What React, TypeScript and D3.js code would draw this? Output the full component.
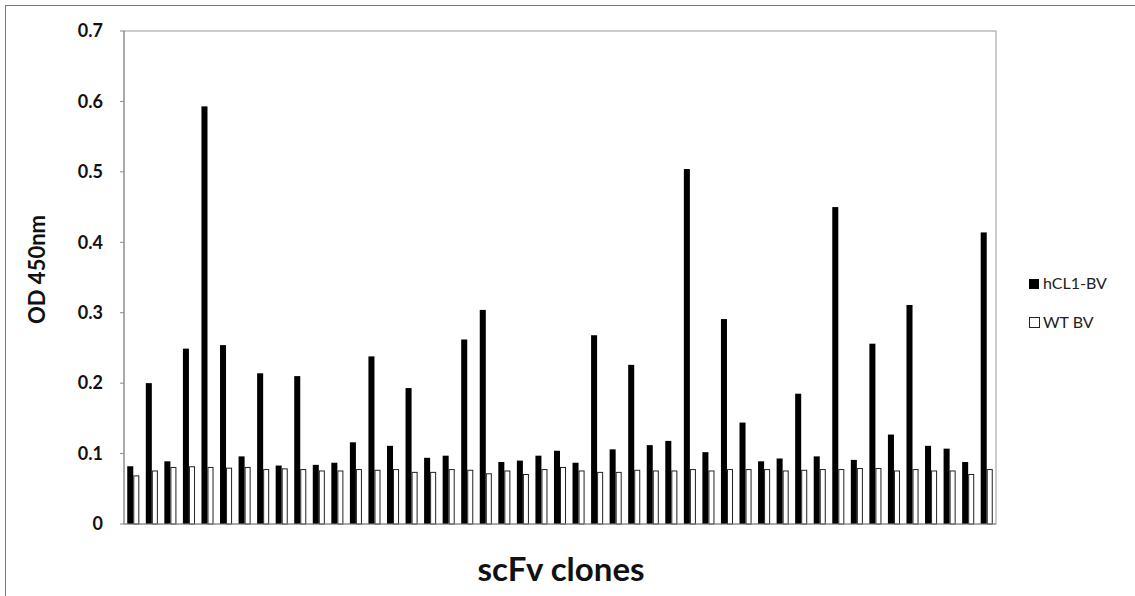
import React from "react";
import * as d3 from "d3";

const hcl1Values = [
  0.082, 0.200, 0.089, 0.249, 0.593, 0.254, 0.096, 0.214, 0.083, 0.210,
  0.084, 0.087, 0.116, 0.238, 0.111, 0.193, 0.094, 0.097, 0.262, 0.304,
  0.088, 0.090, 0.097, 0.104, 0.087, 0.268, 0.106, 0.226, 0.112, 0.118,
  0.504, 0.102, 0.291, 0.144, 0.089, 0.093, 0.185, 0.096, 0.450, 0.091,
  0.256, 0.127, 0.311, 0.111, 0.107, 0.088, 0.414,
];
const wtValues = [
  0.069, 0.076, 0.081, 0.082, 0.081, 0.080, 0.081, 0.078, 0.079, 0.078,
  0.076, 0.076, 0.078, 0.077, 0.078, 0.074, 0.074, 0.078, 0.077, 0.072,
  0.076, 0.071, 0.078, 0.081, 0.076, 0.074, 0.074, 0.077, 0.076, 0.076,
  0.078, 0.076, 0.078, 0.078, 0.078, 0.076, 0.077, 0.078, 0.078, 0.0795,
  0.0795, 0.076, 0.078, 0.076, 0.076, 0.071, 0.078,
];
const clones = hcl1Values.map((_, i) => `clone ${i + 1}`);
const seriesNames = ["hCL1-BV", "WT BV"];
const yTicks = [0, 0.1, 0.2, 0.3, 0.4, 0.5, 0.6, 0.7];

const W = 1135;
const H = 596;
const left = 124;
const right = 996;
const top = 31;
const bottom = 524;
const font = "Lato, 'Open Sans', sans-serif";

export default function App() {
  const x = d3.scaleBand<string>().domain(clones).range([left, right]).paddingInner(0.35).paddingOuter(0.175);
  const inner = d3.scaleBand<number>().domain([0, 1]).range([0, x.bandwidth()]);
  const y = d3.scaleLinear().domain([0, 0.7]).range([bottom, top]);
  const fmt = (v: number) => (v === 0 ? "0" : d3.format(".1f")(v));

  return (
    <svg width={W} height={H} style={{ position: "absolute", left: 0, top: 0, background: "#fff" }}>
      {/* outer chart frame */}
      <rect x={5.5} y={5.5} width={W + 20} height={H + 20} fill="none" stroke="#777" strokeWidth={1} />
      {/* plot border */}
      <rect x={left} y={top} width={right - left} height={bottom - top} fill="none" stroke="#999" strokeWidth={1} />
      {/* y axis */}
      <line x1={left} x2={left} y1={top} y2={bottom} stroke="#888" />
      {yTicks.map((t) => (
        <g key={t}>
          <line x1={left - 4} x2={left} y1={y(t)} y2={y(t)} stroke="#888" />
          <text x={103} y={y(t)} dy="0.35em" textAnchor="end" fontFamily={font} fontWeight="bold" fontSize={18} fill="#111">
            {fmt(t)}
          </text>
        </g>
      ))}
      {/* bars */}
      {clones.map((c, i) => (
        <g key={c}>
          <rect
            x={(x(c) as number) + (inner(0) as number)}
            y={y(hcl1Values[i])}
            width={inner.bandwidth()}
            height={bottom - y(hcl1Values[i])}
            fill="#000"
          />
          <rect
            x={(x(c) as number) + (inner(1) as number) + 0.5}
            y={y(wtValues[i]) + 0.5}
            width={inner.bandwidth() - 1}
            height={bottom - y(wtValues[i]) - 0.5}
            fill="#fff"
            stroke="#222"
            strokeWidth={1}
          />
        </g>
      ))}
      {/* x axis line */}
      <line x1={left} x2={right} y1={bottom} y2={bottom} stroke="#888" />
      {/* axis titles */}
      <text x={561} y={581} textAnchor="middle" fontFamily={font} fontWeight="bold" fontSize={33} fill="#111">
        scFv clones
      </text>
      <text
        transform={`translate(45,${(top + bottom) / 2 - 8}) rotate(-90)`}
        textAnchor="middle"
        fontFamily={font}
        fontWeight="bold"
        fontSize={22}
        fill="#111"
      >
        OD 450nm
      </text>
      {/* legend */}
      <rect x={1029} y={279} width={10} height={10} fill="#000" />
      <text x={1043} y={289} fontFamily={font} fontSize={16} fill="#222">{seriesNames[0]}</text>
      <rect x={1029.5} y={317.5} width={10} height={10} fill="#fff" stroke="#222" />
      <text x={1043} y={328} fontFamily={font} fontSize={16} fill="#222">{seriesNames[1]}</text>
    </svg>
  );
}
